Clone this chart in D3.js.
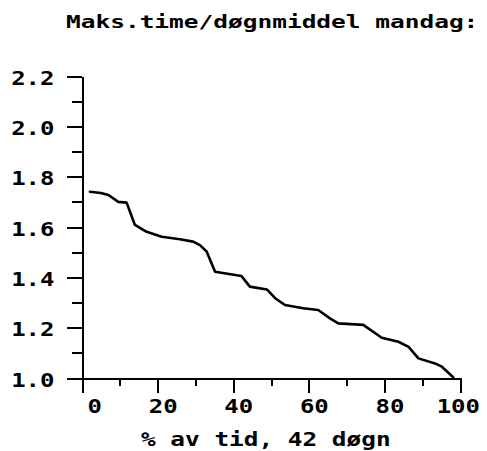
<!DOCTYPE html>
<html><head><meta charset="utf-8">
<script src="https://cdn.jsdelivr.net/npm/d3@7"></script>
<style>
html,body{margin:0;padding:0;background:#fff;}
svg{display:block;}
text{font-family:"DejaVu Sans Mono",monospace;font-weight:bold;fill:#000;}
</style></head>
<body>
<script>
const title = "Maks.time/døgnmiddel mandag:";
const xLabel = "% av tid, 42 døgn";
const xTicks = [0, 20, 40, 60, 80, 100];
const xMinorTicks = [10, 30, 50, 70, 90];
const yTicks = [1.0, 1.2, 1.4, 1.6, 1.8, 2.0, 2.2];
const yMinorTicks = [1.1, 1.3, 1.5, 1.7, 1.9, 2.1];
const pct = [2.1, 5.0, 7.0, 9.6, 11.8, 14.0, 17.1, 21.1, 25.9, 29.4, 31.2, 33.0, 35.2, 42.2, 44.4, 48.9, 51.1, 53.7, 58.5, 62.5, 65.6, 67.8, 74.4, 79.3, 83.7, 86.4, 89.0, 93.4, 95.2, 98.2];
const ratio = [1.740, 1.735, 1.727, 1.700, 1.697, 1.608, 1.581, 1.561, 1.551, 1.542, 1.528, 1.502, 1.422, 1.405, 1.363, 1.352, 1.317, 1.290, 1.277, 1.270, 1.237, 1.217, 1.211, 1.160, 1.144, 1.124, 1.078, 1.058, 1.045, 1.003];

const W = 487, H = 451;
const svg = d3.select("body").append("svg").attr("width", W).attr("height", H);
const x = d3.scaleLinear().domain([0, 100]).range([82, 460]);
const y = d3.scaleLinear().domain([1.0, 2.2]).range([378, 76]);

const SX = 1.2;
// minor ticks
const gxm = svg.append("g").attr("transform", `translate(0,${y(1.0)})`)
  .call(d3.axisBottom(x).tickValues(xMinorTicks).tickSize(8).tickFormat(""));
gxm.select(".domain").remove();
const gym = svg.append("g").attr("transform", `translate(${x(0)},0)`)
  .call(d3.axisLeft(y).tickValues(yMinorTicks).tickSize(10).tickFormat(""));
gym.select(".domain").remove();
// major
const gx = svg.append("g").attr("transform", `translate(0,${y(1.0)})`)
  .call(d3.axisBottom(x).tickValues(xTicks).tickSize(15).tickSizeOuter(0).tickFormat(d => String(d)));
const gy = svg.append("g").attr("transform", `translate(${x(0)},0)`)
  .call(d3.axisLeft(y).tickValues(yTicks).tickSize(15).tickSizeOuter(0).tickFormat(d3.format(".1f")));

svg.selectAll(".domain, .tick line").attr("stroke", "#000").attr("stroke-width", 2).attr("shape-rendering", "crispEdges");

gx.selectAll(".tick text")
  .attr("text-anchor", "end").attr("x", 0).attr("y", 0).attr("dy", 0)
  .attr("transform", `translate(19.5,35) scale(${SX},1)`)
  .style("font-size", "20px");
gy.selectAll(".tick text")
  .attr("text-anchor", "end").attr("x", 0).attr("y", 0).attr("dy", 0)
  .attr("transform", `translate(${54.5 - 82},8) scale(${SX},1)`)
  .style("font-size", "20px");
svg.selectAll(".tick text").attr("font-family", null).attr("font-size", null);

const line = d3.line().x((d, i) => x(pct[i])).y((d, i) => y(ratio[i])).curve(d3.curveLinear);
svg.append("path").datum(ratio).attr("d", line)
  .attr("fill", "none").attr("stroke", "#000").attr("stroke-width", 2.6)
  .attr("stroke-linejoin", "round").attr("stroke-linecap", "round");

svg.append("text").attr("transform", "translate(66,28) scale(1.36,1)")
  .style("font-size", "18px").text(title);
svg.append("text").attr("transform", `translate(141,446) scale(1.22,1)`)
  .style("font-size", "20px").text(xLabel);
</script>
</body></html>
